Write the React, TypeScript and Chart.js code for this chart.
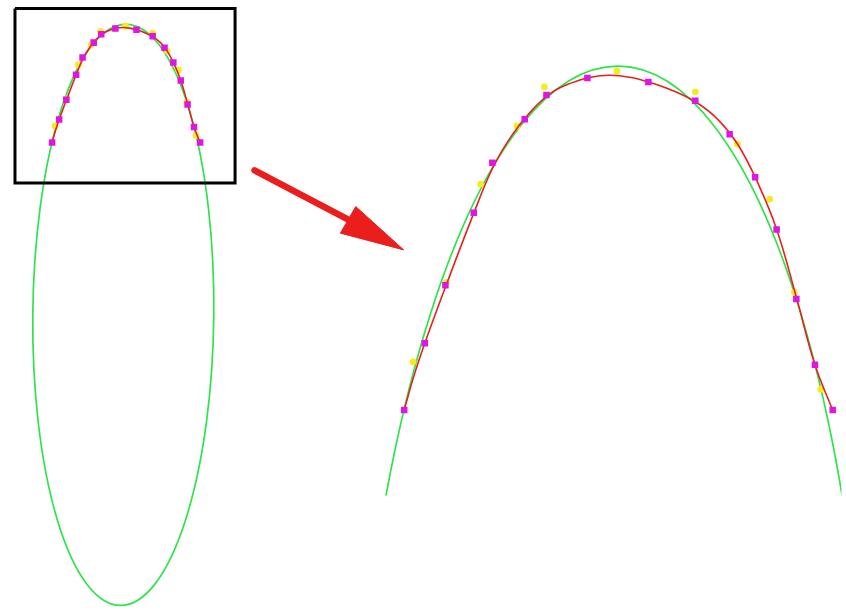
import React, { useEffect, useRef } from "react";
import { Chart, registerables } from "chart.js";

Chart.register(...registerables);

// ---------- Data (model units = left-panel pixels) ----------
// Fitted ellipse (green)
const ellipseCenter = [120, 315];
const ellipseRadii = [91.5, 295];
const ellipseAngleDeg = [0.57];

// Fitted curve (red)
const fitCurveX = [48.0, 51.42, 55.19, 62.38, 71.97, 78.82, 85.67, 92.52, 99.37, 106.22, 113.07, 119.92, 126.77, 133.62, 140.47, 149.71, 157.59, 164.44, 171.29, 178.14, 184.99, 191.51, 197.66];
const fitCurveY = [140.0, 128.01, 116.71, 97.19, 72.19, 55.75, 44.11, 35.55, 29.38, 25.96, 23.9, 23.22, 23.9, 25.62, 28.01, 32.47, 38.63, 47.19, 60.21, 76.99, 100.62, 124.25, 140.0];

// Sample points (magenta squares)
const sampleX = [48.0, 55.2, 62.4, 72.3, 78.8, 90.1, 97.7, 112.0, 133.3, 149.7, 161.7, 170.6, 178.1, 185.0, 191.5, 197.7];
const sampleY = [140.0, 116.7, 96.5, 71.2, 53.7, 38.6, 30.1, 24.2, 25.6, 32.1, 43.8, 58.8, 77.0, 101.3, 124.2, 140.0];

// Raw observations (yellow)
const rawX = [51.1, 62.7, 74.7, 87.4, 97.0, 122.3, 149.7, 164.4, 175.7, 184.3, 193.5];
const rawY = [123.2, 95.5, 61.2, 41.0, 27.3, 21.8, 29.0, 47.2, 66.4, 98.9, 132.8];

// Zoom box (black rectangle)
const boxX = [10.5, 233, 233, 10.5, 10.5];
const boxY = [4, 4, 181, 181, 4];

// Arrow
const arrowShaftX = [252.7, 347];
const arrowShaftY = [168.3, 218];
const arrowHeadX = [355, 339.5, 403.5, 355];
const arrowHeadY = [205, 232, 249, 205];

// ---------- Layout ----------
const PAGE_W = 846;
const PAGE_H = 615;
const ZOOM = 2.92;
const ZOOM_ANCHOR_MODEL = [48, 140];
const ZOOM_ANCHOR_PAGE = [400, 413];
const RIGHT_LEFT = 380;
const RIGHT_TOP = 0;
const RIGHT_W = PAGE_W - RIGHT_LEFT;
const RIGHT_H = 500;

const GREEN = "rgb(45,228,75)";
const RED = "rgb(235,30,30)";
const MAGENTA = "rgb(225,20,225)";
const YELLOW = "rgb(242,238,30)";

const pts = (xs: number[], ys: number[]) => xs.map((x, i) => ({ x, y: ys[i] }));

const ellipsePlugin = {
  id: "fittedEllipse",
  beforeDatasetsDraw(chart: any) {
    const { ctx, chartArea, scales } = chart;
    const xs = scales.x;
    const ys = scales.y;
    const kx = Math.abs(xs.getPixelForValue(1) - xs.getPixelForValue(0));
    const ky = Math.abs(ys.getPixelForValue(1) - ys.getPixelForValue(0));
    ctx.save();
    ctx.beginPath();
    ctx.rect(chartArea.left, chartArea.top, chartArea.right - chartArea.left, chartArea.bottom - chartArea.top);
    ctx.clip();
    ctx.beginPath();
    ctx.ellipse(
      xs.getPixelForValue(ellipseCenter[0]),
      ys.getPixelForValue(ellipseCenter[1]),
      ellipseRadii[0] * kx,
      ellipseRadii[1] * ky,
      (ellipseAngleDeg[0] * Math.PI) / 180,
      0,
      Math.PI * 2
    );
    ctx.strokeStyle = GREEN;
    ctx.lineWidth = 1.7;
    ctx.stroke();
    ctx.restore();
  },
};

function baseDatasets() {
  return [
    {
      data: pts(sampleX, sampleY),
      showLine: false,
      pointStyle: "rect",
      pointRadius: 4.6,
      pointBackgroundColor: MAGENTA,
      pointBorderColor: MAGENTA,
      pointBorderWidth: 0,
    },
    {
      data: pts(fitCurveX, fitCurveY),
      showLine: true,
      tension: 0.4,
      borderColor: RED,
      borderWidth: 1.6,
      pointRadius: 0,
      fill: false,
    },
    {
      data: pts(rawX, rawY),
      showLine: false,
      pointStyle: "circle",
      pointRadius: 3.4,
      pointBackgroundColor: YELLOW,
      pointBorderColor: YELLOW,
      pointBorderWidth: 0,
    },
  ];
}

function makeOptions(xmin: number, xmax: number, ymin: number, ymax: number): any {
  return {
    responsive: false,
    animation: false,
    events: [],
    layout: { padding: 0 },
    plugins: { legend: { display: false }, tooltip: { enabled: false } },
    scales: {
      x: { type: "linear", min: xmin, max: xmax, display: false },
      y: { type: "linear", min: ymin, max: ymax, reverse: true, display: false },
    },
  };
}

export default function App() {
  const leftRef = useRef<HTMLCanvasElement>(null);
  const rightRef = useRef<HTMLCanvasElement>(null);

  useEffect(() => {
    const leftDatasets: any[] = [
      ...baseDatasets(),
      {
        data: pts(boxX, boxY),
        showLine: true,
        tension: 0,
        borderColor: "#000",
        borderWidth: 3,
        borderJoinStyle: "miter",
        pointRadius: 0,
        fill: false,
      },
      {
        data: pts(arrowShaftX, arrowShaftY),
        showLine: true,
        tension: 0,
        borderColor: RED,
        borderWidth: 6.5,
        borderCapStyle: "round",
        pointRadius: 0,
        fill: false,
      },
      {
        data: pts(arrowHeadX, arrowHeadY),
        showLine: true,
        tension: 0,
        borderColor: RED,
        backgroundColor: RED,
        borderWidth: 1,
        pointRadius: 0,
        fill: "shape",
      },
    ];
    const left = new Chart(leftRef.current as HTMLCanvasElement, {
      type: "scatter",
      data: { datasets: leftDatasets },
      options: makeOptions(0, PAGE_W, 0, PAGE_H),
      plugins: [ellipsePlugin],
    } as any);

    const x0 = ZOOM_ANCHOR_MODEL[0] + (RIGHT_LEFT - ZOOM_ANCHOR_PAGE[0]) / ZOOM;
    const x1 = ZOOM_ANCHOR_MODEL[0] + (RIGHT_LEFT + RIGHT_W - ZOOM_ANCHOR_PAGE[0]) / ZOOM;
    const y0 = ZOOM_ANCHOR_MODEL[1] + (RIGHT_TOP - ZOOM_ANCHOR_PAGE[1]) / ZOOM;
    const y1 = ZOOM_ANCHOR_MODEL[1] + (RIGHT_TOP + RIGHT_H - ZOOM_ANCHOR_PAGE[1]) / ZOOM;
    const right = new Chart(rightRef.current as HTMLCanvasElement, {
      type: "scatter",
      data: { datasets: baseDatasets() as any[] },
      options: makeOptions(x0, x1, y0, y1),
      plugins: [ellipsePlugin],
    } as any);

    return () => {
      left.destroy();
      right.destroy();
    };
  }, []);

  return (
    <div style={{ position: "absolute", left: 0, top: 0, width: PAGE_W, height: PAGE_H, background: "#fff" }}>
      <canvas
        ref={leftRef}
        width={PAGE_W}
        height={PAGE_H}
        style={{ position: "absolute", left: 0, top: 0, width: PAGE_W, height: PAGE_H }}
      />
      <canvas
        ref={rightRef}
        width={RIGHT_W}
        height={RIGHT_H}
        style={{ position: "absolute", left: RIGHT_LEFT, top: RIGHT_TOP, width: RIGHT_W, height: RIGHT_H }}
      />
    </div>
  );
}
